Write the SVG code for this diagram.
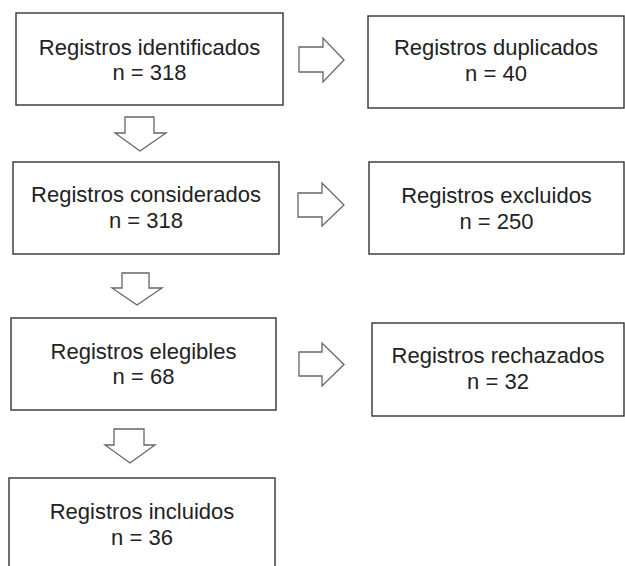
<svg xmlns="http://www.w3.org/2000/svg" width="625" height="566" viewBox="0 0 625 566">
<style>
.box{fill:#fff;stroke:#333;stroke-width:1.4}
.arr{fill:#fff;stroke:#666;stroke-width:1.3;stroke-linejoin:miter}
text{font-family:"Liberation Sans",Arial,sans-serif;font-size:22px;fill:#222;text-anchor:middle}
</style>
<rect width="625" height="566" fill="#fff"/>
<g id="n1"><rect class="box" x="16" y="13" width="267" height="92"/><text x="149.5" y="55">Registros identificados</text><text x="149.5" y="80">n = 318</text></g>
<g id="n2"><rect class="box" x="368" y="16" width="256" height="92"/><text x="496" y="55">Registros duplicados</text><text x="496" y="81">n = 40</text></g>
<g id="n3"><rect class="box" x="13" y="162" width="266" height="92"/><text x="146" y="202">Registros considerados</text><text x="146" y="228">n = 318</text></g>
<g id="n4"><rect class="box" x="369" y="162" width="255" height="92"/><text x="496.5" y="203">Registros excluidos</text><text x="496.5" y="229">n = 250</text></g>
<g id="n5"><rect class="box" x="11" y="318" width="265" height="92"/><text x="143.5" y="359">Registros elegibles</text><text x="143.5" y="384">n = 68</text></g>
<g id="n6"><rect class="box" x="372" y="323" width="252" height="93"/><text x="498" y="363">Registros rechazados</text><text x="498" y="389">n = 32</text></g>
<g id="n7"><rect class="box" x="9" y="478" width="266" height="100"/><text x="142" y="519">Registros incluidos</text><text x="142" y="545">n = 36</text></g>
<g id="connectors">
<polygon class="arr" points="299,47 323,47 323,38 344,60 323,82 323,72 299,72"/>
<polygon class="arr" points="298,193 322,193 322,183 344,205 322,226 322,217 298,217"/>
<polygon class="arr" points="299,352 322,352 322,343 344,364.5 322,386 322,376 299,376"/>
<polygon class="arr" points="125,117 154,117 154,133 166,133 140,151 115,133 125,133"/>
<polygon class="arr" points="122,273 149,273 149,288 162,288 137,305 112,288 122,288"/>
<polygon class="arr" points="114,429 144,429 144,445 155,445 130,463 105,445 114,445"/>
</g>
</svg>
